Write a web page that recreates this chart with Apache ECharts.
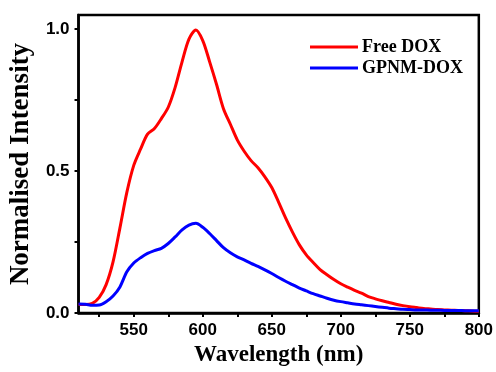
<!DOCTYPE html>
<html><head><meta charset="utf-8">
<script src="https://cdn.jsdelivr.net/npm/echarts@6/dist/echarts.min.js"></script>
<style>html,body{margin:0;padding:0;background:#fff}#c{width:496px;height:372px}</style>
</head><body><div id="c"></div>
<script>
const wavelengths = [510,515,520,525,530,535,540,545,550,555,560,565,570,575,580,585,590,595,600,605,610,615,620,625,630,635,640,645,650,655,660,665,670,675,680,685,690,695,700,705,710,715,720,725,730,735,740,745,750,755,760,765,770,775,780,785,790,795,800];
const freeDOX = [0.030,0.030,0.034,0.055,0.100,0.180,0.300,0.425,0.520,0.578,0.630,0.650,0.685,0.725,0.795,0.885,0.965,0.997,0.960,0.885,0.805,0.720,0.665,0.610,0.570,0.537,0.512,0.480,0.442,0.390,0.335,0.285,0.240,0.205,0.178,0.153,0.135,0.118,0.103,0.091,0.080,0.070,0.058,0.050,0.043,0.037,0.031,0.026,0.022,0.019,0.016,0.014,0.012,0.011,0.010,0.009,0.008,0.007,0.006];
const gpnmDOX = [0.032,0.031,0.027,0.028,0.040,0.060,0.092,0.145,0.176,0.195,0.210,0.220,0.228,0.245,0.268,0.293,0.310,0.316,0.302,0.280,0.255,0.230,0.212,0.198,0.187,0.175,0.164,0.152,0.139,0.125,0.112,0.100,0.088,0.078,0.068,0.060,0.052,0.045,0.040,0.036,0.032,0.029,0.026,0.023,0.020,0.017,0.015,0.013,0.012,0.011,0.011,0.010,0.010,0.009,0.009,0.009,0.008,0.008,0.008];
const xTickLabels = [550,600,650,700,750,800];
const xTicks = [525,550,575,600,625,650,675,700,725,750,775,800];
const yTickLabels = [0,0.5,1.0];
const yTicks = [0,0.25,0.5,0.75,1.0];

const chart = echarts.init(document.getElementById('c'), null, {renderer:'canvas'});
const pair = a => wavelengths.map((w,i)=>[w,a[i]]);
chart.setOption({
  animation:false,
  backgroundColor:'#fff',
  grid:{left:74,right:17,top:15,bottom:56,show:true,borderColor:'#000',borderWidth:2.5,backgroundColor:'transparent'},
  legend:{
    orient:'vertical',left:305,top:33,itemWidth:48,itemHeight:3,itemGap:3,icon:'rect',
    textStyle:{fontFamily:'Liberation Serif',fontWeight:'bold',fontSize:18,color:'#000',padding:[0,0,0,-1]},
    data:['Free DOX','GPNM-DOX']
  },
  xAxis:{
    type:'value',min:510,max:800,
    name:'Wavelength (nm)',nameLocation:'middle',nameGap:31,
    nameTextStyle:{fontFamily:'Liberation Serif',fontWeight:'bold',fontSize:23,color:'#000'},
    axisLine:{show:true,lineStyle:{color:'#000',width:2.5}},
    axisTick:{show:true,inside:false,length:4,lineStyle:{color:'#000',width:2},customValues:xTicks},
    axisLabel:{customValues:xTickLabels,margin:9,fontFamily:'Liberation Sans',fontWeight:'bold',fontSize:17,color:'#000'},
    splitLine:{show:false}
  },
  yAxis:{
    type:'value',min:0,max:1.05,
    name:'Normalised Intensity',nameLocation:'middle',nameGap:42,nameRotate:90,
    nameTextStyle:{fontFamily:'Liberation Serif',fontWeight:'bold',fontSize:27,color:'#000'},
    axisLine:{show:true,lineStyle:{color:'#000',width:2.5}},
    axisTick:{show:true,inside:false,length:4,lineStyle:{color:'#000',width:2},customValues:yTicks},
    axisLabel:{customValues:yTickLabels,margin:9,fontFamily:'Liberation Sans',fontWeight:'bold',fontSize:17,color:'#000',formatter:v=>v.toFixed(1)},
    splitLine:{show:false}
  },
  series:[
    {name:'Free DOX',type:'line',data:pair(freeDOX),showSymbol:false,symbol:'none',smooth:0.3,lineStyle:{color:'#ff0000',width:3},itemStyle:{color:'#ff0000'},z:2},
    {name:'GPNM-DOX',type:'line',data:pair(gpnmDOX),showSymbol:false,symbol:'none',smooth:0.3,lineStyle:{color:'#0000ff',width:3},itemStyle:{color:'#0000ff'},z:3}
  ]
});
</script></body></html>
